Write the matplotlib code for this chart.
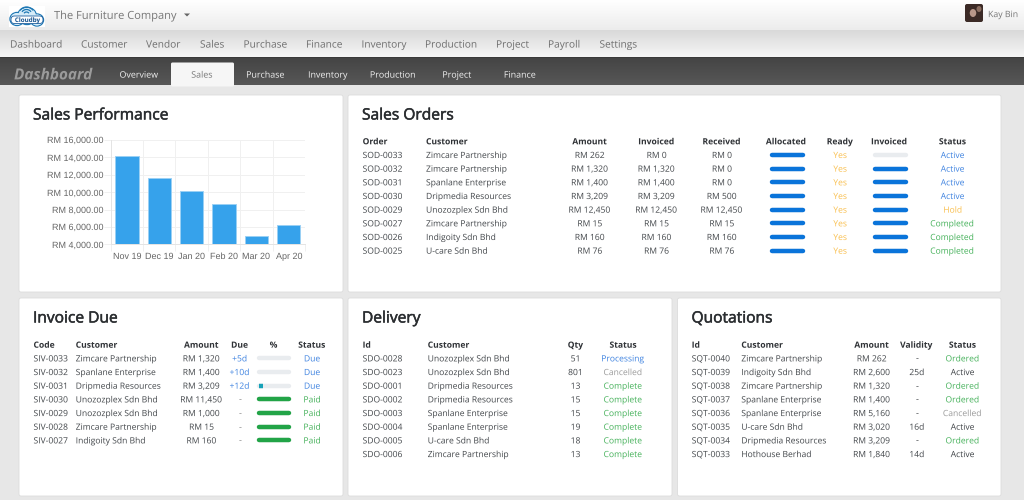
# -*- coding: utf-8 -*-
import numpy as np
import matplotlib
matplotlib.use("Agg")
import matplotlib.pyplot as plt
import matplotlib.patheffects as pe
from matplotlib.patches import Rectangle, FancyBboxPatch, Ellipse, Arc, Polygon

plt.rcParams['font.family'] = ['Open Sans', 'DejaVu Sans']
plt.rcParams['text.hinting'] = 'no_hinting'
plt.rcParams['text.hinting_factor'] = 1

# --- DATA ---
months = ["Nov 19", "Dec 19", "Jan 20", "Feb 20", "Mar 20", "Apr 20"]
sales = [14190, 11650, 10120, 8580, 4960, 6190]
sales_ticks = [4000, 6000, 8000, 10000, 12000, 14000, 16000]

main_nav = ["Dashboard", "Customer", "Vendor", "Sales", "Purchase", "Finance",
            "Inventory", "Production", "Project", "Payroll", "Settings"]
sub_nav = ["Overview", "Sales", "Purchase", "Inventory", "Production", "Project", "Finance"]

so_codes = ["SOD-0033", "SOD-0032", "SOD-0031", "SOD-0030", "SOD-0029", "SOD-0027", "SOD-0026", "SOD-0025"]
so_customers = ["Zimcare Partnership", "Zimcare Partnership", "Spanlane Enterprise", "Dripmedia Resources",
                "Unozozplex Sdn Bhd", "Zimcare Partnership", "Indigoity Sdn Bhd", "U-care Sdn Bhd"]
so_amount = ["RM 262", "RM 1,320", "RM 1,400", "RM 3,209", "RM 12,450", "RM 15", "RM 160", "RM 76"]
so_invoiced = ["RM 0", "RM 1,320", "RM 1,400", "RM 3,209", "RM 12,450", "RM 15", "RM 160", "RM 76"]
so_received = ["RM 0", "RM 0", "RM 0", "RM 500", "RM 12,450", "RM 15", "RM 160", "RM 76"]
so_allocated = [100, 100, 100, 100, 100, 100, 100, 100]
so_ready = ["Yes"] * 8
so_inv_pct = [0, 100, 100, 100, 100, 100, 100, 100]
so_status = ["Active", "Active", "Active", "Active", "Hold", "Completed", "Completed", "Completed"]

iv_codes = ["SIV-0033", "SIV-0032", "SIV-0031", "SIV-0030", "SIV-0029", "SIV-0028", "SIV-0027"]
iv_customers = ["Zimcare Partnership", "Spanlane Enterprise", "Dripmedia Resources", "Unozozplex Sdn Bhd",
                "Unozozplex Sdn Bhd", "Zimcare Partnership", "Indigoity Sdn Bhd"]
iv_amount = ["RM 1,320", "RM 1,400", "RM 3,209", "RM 11,450", "RM 1,000", "RM 15", "RM 160"]
iv_due = ["+5d", "+10d", "+12d", "-", "-", "-", "-"]
iv_pct = [0, 0, 15, 100, 100, 100, 100]
iv_status = ["Due", "Due", "Due", "Paid", "Paid", "Paid", "Paid"]

dl_codes = ["SDO-0028", "SDO-0023", "SDO-0001", "SDO-0002", "SDO-0003", "SDO-0004", "SDO-0005", "SDO-0006"]
dl_customers = ["Unozozplex Sdn Bhd", "Unozozplex Sdn Bhd", "Dripmedia Resources", "Dripmedia Resources",
                "Spanlane Enterprise", "Spanlane Enterprise", "U-care Sdn Bhd", "Zimcare Partnership"]
dl_qty = ["51", "801", "13", "15", "15", "19", "18", "13"]
dl_status = ["Processing", "Cancelled", "Complete", "Complete", "Complete", "Complete", "Complete", "Complete"]

qt_codes = ["SQT-0040", "SQT-0039", "SQT-0038", "SQT-0037", "SQT-0036", "SQT-0035", "SQT-0034", "SQT-0033"]
qt_customers = ["Zimcare Partnership", "Indigoity Sdn Bhd", "Zimcare Partnership", "Spanlane Enterprise",
                "Spanlane Enterprise", "U-care Sdn Bhd", "Dripmedia Resources", "Hothouse Berhad"]
qt_amount = ["RM 262", "RM 2,600", "RM 1,320", "RM 1,400", "RM 5,160", "RM 3,020", "RM 3,209", "RM 1,840"]
qt_validity = ["-", "25d", "-", "-", "-", "16d", "-", "14d"]
qt_status = ["Ordered", "Active", "Ordered", "Ordered", "Cancelled", "Active", "Ordered", "Active"]

# --- STYLE ---
W, H = 1024, 500
TXT = "#43474b"
HEAD = "#2f3236"
BLUE = "#3f83e0"
GREEN = "#45b15a"
YELLOW = "#f9bf4e"
GREY = "#9a9a9a"
SO_COLORS = {"Active": BLUE, "Hold": YELLOW, "Completed": GREEN, "Yes": YELLOW}
IV_COLORS = {"Due": BLUE, "Paid": GREEN}
DL_COLORS = {"Processing": BLUE, "Cancelled": GREY, "Complete": GREEN}
QT_COLORS = {"Ordered": GREEN, "Cancelled": GREY, "Active": "#3f4347"}
ROW = 13.67
TS = 6.15

fig = plt.figure(figsize=(W / 100, H / 100), dpi=100, facecolor="#e7e7e7")
ui = fig.add_axes([0, 0, 1, 1])


def gradient(x0, x1, y0, y1, top, bottom):
    c0 = np.array(matplotlib.colors.to_rgb(top))
    c1 = np.array(matplotlib.colors.to_rgb(bottom))
    t = np.linspace(0, 1, 64)[:, None, None]
    img = c0[None, None, :] * (1 - t) + c1[None, None, :] * t
    ui.imshow(img, extent=[x0, x1, y1, y0], aspect="auto", zorder=1, interpolation="bilinear")


def label(x, y, s, size=TS, color=TXT, ha="left", **kw):
    # baseline anchor; Normal path effect draws glyphs as paths, so rows do not jitter by a pixel
    t = ui.text(x, y + size * 0.49, s, fontsize=size, color=color, ha=ha, va="baseline", zorder=4,
                path_effects=[pe.Normal()], **kw)
    # a lone hyphen is a plain rectangle and gets snapped away as a path
    if s == "-":
        t.set_path_effects([])
    return t


def card(x0, y0, x1, y1, title):
    ui.add_patch(FancyBboxPatch((x0, y0), x1 - x0, y1 - y0, boxstyle="round,pad=0,rounding_size=2",
                                fc="white", ec="#dcdcdc", lw=0.6, zorder=2))
    t = label(x0 + 14, y0 + 19, title, size=11.2, color="#2a2d30")
    t.set_path_effects([pe.withStroke(linewidth=0.35, foreground="#2a2d30")])


def column(x, y0, head, values, ha="left", colors=None):
    label(x, y0, head, color=HEAD, ha=ha, fontweight="bold")
    for i, v in enumerate(values):
        col = colors.get(v, TXT) if colors else TXT
        label(x, y0 + ROW * (i + 1), v, color=col, ha=ha)


def progress(x0, x1, y0, head, values, color, low_color=None):
    label((x0 + x1) / 2, y0, head, color=HEAD, ha="center", fontweight="bold")
    for i, v in enumerate(values):
        y = y0 + ROW * (i + 1)
        ui.plot([x0 + 1.5, x1 - 1.5], [y, y], color="#e9ecef", lw=3.2, solid_capstyle="round", zorder=3)
        if v > 0:
            c = low_color if (low_color and v < 100) else color
            ui.plot([x0 + 1.5, x0 + 1.5 + (x1 - x0 - 3) * v / 100], [y, y], color=c, lw=3.2,
                    solid_capstyle="round" if v == 100 else "butt", zorder=3)


# --- TOP BARS ---
gradient(0, W, 0, 30, "#ffffff", "#ececec")
gradient(0, W, 30, 57, "#d9d9d9", "#f6f6f6")
gradient(0, W, 57, 85, "#444444", "#575757")
ui.add_patch(Rectangle((0, 57), W, 1.2, fc="#3a3a3a", ec="none", zorder=2))

# logo
ui.add_patch(Rectangle((9, 6), 36, 21, fc="white", ec="none", zorder=2))
for cx, cy, w, h in [(17, 19, 14, 13), (27, 16, 19, 17), (37, 20, 13, 12)]:
    ui.add_patch(Ellipse((cx, cy), w, h, fc="#cfe8f7", ec="#1f78b4", lw=1.0, zorder=3))
for cx, cy, w, h in [(17, 19, 13, 12), (27, 16, 18, 16), (37, 20, 12, 11)]:
    ui.add_patch(Ellipse((cx, cy), w, h, fc="#d6ecf9", ec="none", zorder=3))
ui.add_patch(FancyBboxPatch((11, 16), 32, 7.5, boxstyle="round,pad=0,rounding_size=3.5",
                            fc="white", ec="#1f5f9e", lw=0.6, zorder=3))
label(27, 19.8, "Cloudby", size=4.5, color="#124f8c", ha="center", fontweight="bold")
for w in [6, 11, 16]:
    ui.add_patch(Arc((26.5, 15), w, w, theta1=215, theta2=325, color="#1f78b4", lw=0.9, zorder=4))

label(54, 15, "The Furniture Company", size=8, color="#777777")
ui.add_patch(Polygon([[184, 13.5], [190, 13.5], [187, 16.5]], closed=True, fc="#666666", ec="none", zorder=4))

# avatar
ui.add_patch(FancyBboxPatch((965, 4), 18, 18, boxstyle="round,pad=0,rounding_size=2",
                            fc="#3b2a26", ec="none", zorder=3))
ui.add_patch(Ellipse((973, 13), 6.5, 8, fc="#b9988a", ec="none", zorder=4))
ui.add_patch(Ellipse((979, 9), 5, 6, fc="#8a6d60", ec="none", zorder=4))
label(988, 14, "Kay Bin", size=6.3, color="#777777")

nav_x = [10, 81, 146, 200, 243.5, 306, 361.5, 425, 496, 548, 599.5]
for x, s in zip(nav_x, main_nav):
    label(x, 44, s, size=7.3, color="#6f6f6f")

label(14, 74, "Dashboard", size=11, color="#9b9b9b", fontweight="bold", style="italic")
ui.add_patch(FancyBboxPatch((171, 62.5), 63, 24, boxstyle="round,pad=0,rounding_size=1.5",
                            fc="#f6f6f6", ec="none", zorder=2))
gradient(171, 234, 64, 85, "#ffffff", "#e9e9e9")
sub_x = [139, 202, 265.5, 328, 393, 457, 520]
for x, s in zip(sub_x, sub_nav):
    label(x, 74.5, s, size=6.4, color="#777777" if s == "Sales" else "#f0f0f0", ha="center")

# --- CARDS ---
card(19, 95, 343, 292, "Sales Performance")
card(348, 95, 1001, 292, "Sales Orders")
card(19, 298, 343, 496, "Invoice Due")
card(348, 298, 672, 496, "Delivery")
card(677.5, 298, 1001, 496, "Quotations")

# Sales Orders
y_so = 141.3
column(362.6, y_so, "Order", so_codes)
column(426, y_so, "Customer", so_customers)
column(590.5, y_so, "Amount", so_amount, ha="center")
column(657.2, y_so, "Invoiced", so_invoiced, ha="center")
column(722.5, y_so, "Received", so_received, ha="center")
progress(770, 804, y_so, "Allocated", so_allocated, "#0a74da")
column(840.5, y_so, "Ready", so_ready, ha="center", colors=SO_COLORS)
progress(873, 907, y_so, "Invoiced", so_inv_pct, "#0a74da")
column(953.2, y_so, "Status", so_status, ha="center", colors=SO_COLORS)

# Invoice Due
y_low = 344.7
column(33.5, y_low, "Code", iv_codes)
column(75.7, y_low, "Customer", iv_customers)
column(202.2, y_low, "Amount", iv_amount, ha="center")
column(240, y_low, "Due", iv_due, ha="center", colors={"+5d": BLUE, "+10d": BLUE, "+12d": BLUE, "-": "#888888"})
progress(257, 290.5, y_low, "%", iv_pct, "#22a447", low_color="#17a2b8")
column(312.5, y_low, "Status", iv_status, ha="center", colors=IV_COLORS)

# Delivery
column(362.6, y_low, "Id", dl_codes)
column(427.7, y_low, "Customer", dl_customers)
column(575.8, y_low, "Qty", dl_qty, ha="center")
column(623.8, y_low, "Status", dl_status, ha="center", colors=DL_COLORS)

# Quotations
column(691.7, y_low, "Id", qt_codes)
column(741.3, y_low, "Customer", qt_customers)
column(872.5, y_low, "Amount", qt_amount, ha="center")
column(917.2, y_low, "Validity", qt_validity, ha="center")
column(963.2, y_low, "Status", qt_status, ha="center", colors=QT_COLORS)

ui.set_xlim(0, W)
ui.set_ylim(H, 0)
ui.axis("off")

# --- BAR CHART ---
ax_x0, ax_x1, ax_top, ax_bot = 110.7, 305, 140, 244.3
ax = fig.add_axes([ax_x0 / W, 1 - ax_bot / H, (ax_x1 - ax_x0) / W, (ax_bot - ax_top) / H])
ax.patch.set_alpha(0)
pos = np.arange(len(months))
ax.bar(pos, sales, width=0.72, color="#36a2eb", edgecolor="#9bd0f5", linewidth=0.7, zorder=3)
ax.set_xlim(-0.5, len(months) - 0.5)
ax.set_ylim(4000, 16000)
ax.set_yticks(sales_ticks)
ax.set_yticklabels([f"RM {v:,.2f}" for v in sales_ticks], fontsize=6.7, color="#666666",
                   family="Liberation Sans")
ax.set_xticks(pos)
ax.set_xticklabels(months, fontsize=6.7, color="#666666", family="Liberation Sans")
ax.set_xticks(np.arange(-0.5, len(months)), minor=True)
ax.tick_params(axis="x", which="major", length=0, pad=6)
ax.tick_params(axis="x", which="minor", length=5, color="#f0f0f0", width=0.7)
ax.tick_params(axis="y", length=5, color="#f0f0f0", width=0.7, pad=0.5)
ax.grid(True, axis="y", color="#f0f0f0", lw=0.7, zorder=0)
ax.grid(True, axis="x", which="minor", color="#f0f0f0", lw=0.7, zorder=0)
for name, sp in ax.spines.items():
    sp.set_visible(name in ("left", "bottom"))
    sp.set_color("#e4e4e4")
    sp.set_linewidth(0.7)

plt.savefig("out.png", dpi=100, facecolor=fig.get_facecolor())
